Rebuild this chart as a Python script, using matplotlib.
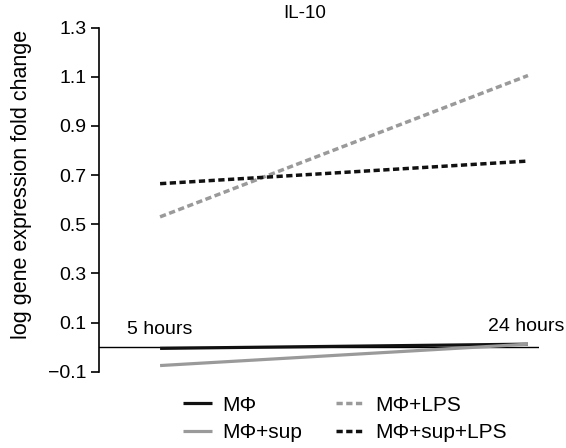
import numpy as np
import matplotlib
matplotlib.use("Agg")
import matplotlib.pyplot as plt

plt.rcParams['font.family'] = ['Liberation Sans', 'DejaVu Sans']

# time points (5 h, 24 h)
tiempos = ["5 hours", "24 hours"]
x_pos = [0, 1]

mphi = [-0.005, 0.012]
mphi_sup = [-0.075, 0.012]
mphi_lps = [0.53, 1.105]
mphi_sup_lps = [0.665, 0.757]

yticks = [-0.1, 0.1, 0.3, 0.5, 0.7, 0.9, 1.1, 1.3]

fig = plt.figure(figsize=(5.66, 4.48), dpi=100)
ax = fig.add_axes([99/566, 1 - 371.7/448, 440/566, (371.7 - 27.6)/448])

negro = "#111111"
gris = "#9a9a9a"
punteado = (0, (1.8, 1.0))

ax.plot(x_pos, mphi, color=negro, lw=2.3, solid_capstyle='butt', label="M\u03a6")
ax.plot(x_pos, mphi_sup, color=gris, lw=2.3, solid_capstyle='butt', label="M\u03a6+sup")
ax.plot(x_pos, mphi_lps, color=gris, lw=2.5, linestyle=punteado, label="M\u03a6+LPS")
ax.plot(x_pos, mphi_sup_lps, color=negro, lw=2.5, linestyle=punteado, label="M\u03a6+sup+LPS")

ax.axhline(0, color="black", lw=1.0, zorder=1)

ax.set_xlim(-0.166, 1.030)
ax.set_ylim(-0.1, 1.3)
ax.set_yticks(yticks)
ax.set_yticklabels(["\u22120.1" if v < 0 else f"{v:.1f}" for v in yticks], fontsize=14)
ax.set_xticks([])
for s in ["top", "right", "bottom"]:
    ax.spines[s].set_visible(False)
ax.spines["left"].set_linewidth(1.2)
ax.tick_params(axis='y', length=6, width=1.2, pad=3)
ax.set_ylabel("log gene expression fold change", fontsize=15.5)
ax.yaxis.set_label_coords(-0.152, 0.545)

ax.text(0.0, 0.070, tiempos[0], fontsize=14, ha='center', va='center')
ax.annotate(tiempos[1], xy=(1.0, 0.082), xytext=(36, 0), textcoords='offset pixels',
            fontsize=14, ha='right', va='center')

fig.text(305/566, 1 - 13/448, "IL-10", fontsize=13.5, ha='center', va='center')

handles, labels = ax.get_legend_handles_labels()
fig.legend(handles, labels, ncol=2, loc='center', bbox_to_anchor=(345/566, 1 - 419/448),
           frameon=False, fontsize=15, handlelength=1.4, handletextpad=0.5,
           columnspacing=1.6, labelspacing=0.42)

fig.savefig("out.png", dpi=100)
